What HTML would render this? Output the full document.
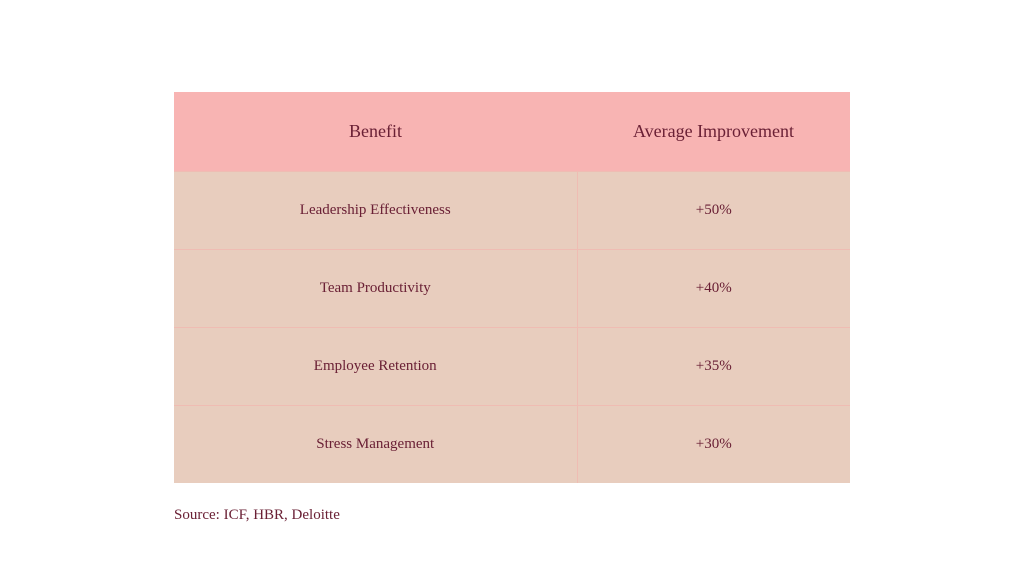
<!DOCTYPE html>
<html><head><meta charset="utf-8"><style>
body{margin:0;width:1024px;height:576px;background:#fff;font-family:"Liberation Serif",serif;color:#6a2035;position:relative;overflow:hidden}
table{position:absolute;left:174px;top:92px;width:676px;border-collapse:collapse;table-layout:fixed}
th,td{text-align:center;padding:0}
th{background:#f8b4b3;height:79px;font-size:18px;font-weight:normal}
td{background:#e8cdbe;height:77px;font-size:15px;border-top:1px solid #efbcb3}
td+td{border-left:1px solid #efbcb3}
.src{position:absolute;left:174px;top:507px;font-size:15px}
</style></head><body>
<table>
<colgroup><col style="width:403px"><col></colgroup>
<tr><th>Benefit</th><th>Average Improvement</th></tr>
<tr><td>Leadership Effectiveness</td><td>+50%</td></tr>
<tr><td>Team Productivity</td><td>+40%</td></tr>
<tr><td>Employee Retention</td><td>+35%</td></tr>
<tr><td>Stress Management</td><td>+30%</td></tr>
</table>
<div class="src">Source: ICF, HBR, Deloitte</div>
</body></html>
